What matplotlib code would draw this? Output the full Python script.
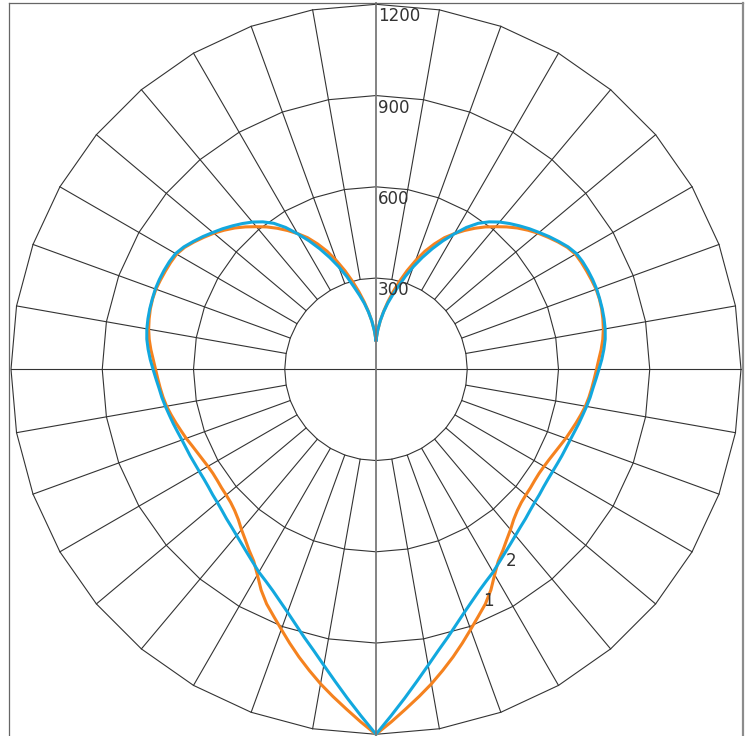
import numpy as np
import matplotlib
matplotlib.use("Agg")
import matplotlib.pyplot as plt
from matplotlib.lines import Line2D

# luminous intensity (cd) read every 2.5 deg from nadir (0) up to zenith (180);
# both curves are symmetric about the vertical axis
ANGLES = np.arange(0, 180.1, 2.5)
CURVE_1 = [1200, 1160, 1121, 1085, 1050, 1014, 979, 944, 910, 879, 851, 818,
           780, 748, 727, 706, 688, 670, 657, 648, 643, 640, 637, 636,
           638, 642, 648, 655, 664, 672, 681, 690, 699, 706, 712, 718,
           725, 733, 743, 752, 759, 764, 768, 770, 770, 767, 764, 761,
           757, 746, 730, 713, 696, 677, 657, 635, 612, 590, 566, 541,
           515, 488, 455, 420, 380, 340, 300, 262, 226, 192, 160, 128,
           96]
CURVE_2 = [1200, 1140, 1085, 1034, 988, 947, 912, 879, 850, 825, 803, 785,
           770, 753, 738, 725, 713, 703, 695, 687, 681, 677, 673, 671,
           671, 672, 674, 676, 679, 684, 690, 696, 703, 710, 716, 724,
           733, 743, 752, 760, 765, 768, 770, 771, 772, 771, 769, 766,
           761, 749, 733, 717, 700, 684, 667, 650, 632, 611, 586, 553,
           514, 476, 437, 398, 359, 320, 281, 249, 220, 190, 160, 128,
           96]
RINGS = [300, 600, 900, 1200]
RING_LABELS = ["300", "600", "900", "1200"]
GRID_STEP = 10  # deg between radial lines / polygon vertices

ORANGE = "#f5821f"
BLUE = "#12a8de"
GRID = "#333333"
TEXT = "#333333"

W, H = 750, 736
CX, CY, RPX = 376, 369.3, 365  # centre and 1200-ring radius in pixels


def mirror(deg, vals):
    deg = np.asarray(deg, float)
    vals = np.asarray(vals, float)
    th = np.concatenate([-deg[::-1], deg[1:]])
    r = np.concatenate([vals[::-1], vals[1:]])
    return np.deg2rad(th), r


fig = plt.figure(figsize=(W / 100, H / 100), dpi=100)
ax = fig.add_axes([(CX - RPX) / W, (H - CY - RPX) / H, 2 * RPX / W, 2 * RPX / H],
                  projection="polar")
ax.set_theta_zero_location("S")
ax.set_theta_direction(1)
ax.set_ylim(0, RINGS[-1])
ax.grid(False)
ax.set_xticks([])
ax.set_yticks([])
ax.spines["polar"].set_visible(False)
ax.patch.set_visible(False)

# polygonal rings
ring_th = np.deg2rad(np.arange(0, 361, GRID_STEP))
for rv in RINGS:
    ax.plot(ring_th, np.full(len(ring_th), rv), color=GRID, lw=0.8,
            clip_on=False, zorder=1)

# radial spokes from the 300 ring outward
for a in np.arange(0, 360, GRID_STEP):
    if a % 90 == 0:
        continue
    t = np.deg2rad(a)
    ax.plot([t, t], [RINGS[0], RINGS[-1]], color=GRID, lw=0.8,
            clip_on=False, zorder=1)

# horizontal axis through the centre
ax.plot([np.pi / 2, np.pi / 2], [0, RINGS[-1]], color=GRID, lw=0.8, clip_on=False, zorder=1)
ax.plot([-np.pi / 2, -np.pi / 2], [0, RINGS[-1]], color=GRID, lw=0.8, clip_on=False, zorder=1)

# vertical axis (grey, a bit heavier), running to the frame
fig.add_artist(Line2D([CX / W, CX / W], [0, 1 - 3.3 / H], color="#7a7a7a", lw=1.3,
                      transform=fig.transFigure, zorder=2))

# frame
fig.add_artist(Line2D([9.3 / W, 9.3 / W], [0, 1 - 3.3 / H], color="#666666", lw=0.9,
                      transform=fig.transFigure))
fig.add_artist(Line2D([9.3 / W, 743 / W], [1 - 3.3 / H, 1 - 3.3 / H], color="#666666",
                      lw=0.9, transform=fig.transFigure))
fig.add_artist(Line2D([743 / W, 743 / W], [0, 1 - 3.3 / H], color="#8c8c8c", lw=1.6,
                      transform=fig.transFigure))

for rv, lab in zip(RINGS, RING_LABELS):
    ax.annotate(lab, xy=(np.pi, rv), xytext=(2, -3), textcoords="offset pixels",
                ha="left", va="top", fontsize=12, color=TEXT, zorder=5,
                annotation_clip=False)

th1, r1 = mirror(ANGLES, CURVE_1)
th2, r2 = mirror(ANGLES, CURVE_2)
ax.plot(th1, r1, color=ORANGE, lw=2.2, solid_joinstyle="round", clip_on=False, zorder=3)
ax.plot(th2, r2, color=BLUE, lw=2.2, solid_joinstyle="round", clip_on=False, zorder=4)

ax.text(np.deg2rad(25.9), 847, "1", ha="center", va="center", fontsize=12,
        color=TEXT, zorder=5)
ax.text(np.deg2rad(35.1), 770, "2", ha="center", va="center", fontsize=12,
        color=TEXT, zorder=5)

fig.savefig("out.png", dpi=100)
